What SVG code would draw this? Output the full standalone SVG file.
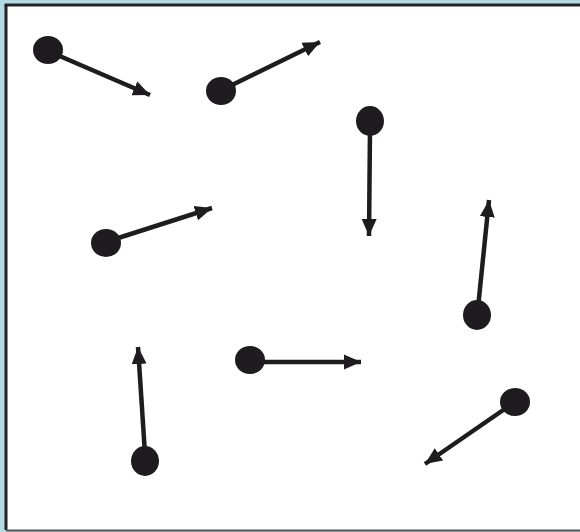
<svg xmlns="http://www.w3.org/2000/svg" width="580" height="532" viewBox="0 0 580 532">
<style>
.dot{fill:#1e1c1e}
.arr{stroke:#1e1c1e;stroke-width:4.5;fill:none;marker-end:url(#ah)}
</style>
<defs>
<marker id="ah" markerUnits="userSpaceOnUse" markerWidth="18" markerHeight="16" refX="17" refY="8" orient="auto">
<path d="M0,0.5 L17,8 L0,15.5 Z" fill="#1e1c1e"/>
</marker>
</defs>
<rect x="0" y="0" width="580" height="532" fill="#b3dbe5"/>
<rect x="6" y="5" width="580" height="525" fill="#fff"/>
<line x1="6" y1="5" x2="6" y2="530" stroke="#232323" stroke-width="3"/>
<line x1="4.5" y1="5" x2="580" y2="5" stroke="#232323" stroke-width="3"/>
<line x1="6" y1="530.5" x2="580" y2="530.5" stroke="#555" stroke-width="2"/>
<g id="connectors">
<line class="arr" x1="55" y1="54" x2="150" y2="95"/>
<line class="arr" x1="228" y1="87" x2="320" y2="42"/>
<line class="arr" x1="370" y1="128" x2="369" y2="236"/>
<line class="arr" x1="112" y1="240" x2="212" y2="208"/>
<line class="arr" x1="478" y1="308" x2="489" y2="200"/>
<line class="arr" x1="257" y1="362" x2="361" y2="362"/>
<line class="arr" x1="145" y1="454" x2="138" y2="347"/>
<line class="arr" x1="509" y1="406" x2="425" y2="464"/>
</g>
<g id="n1"><ellipse class="dot" cx="48" cy="50" rx="15" ry="14"/></g>
<g id="n2"><ellipse class="dot" cx="221" cy="91" rx="15" ry="14"/></g>
<g id="n3"><ellipse class="dot" cx="370" cy="121" rx="14" ry="15"/></g>
<g id="n4"><ellipse class="dot" cx="106" cy="243" rx="15" ry="14"/></g>
<g id="n5"><ellipse class="dot" cx="477" cy="315" rx="14" ry="15"/></g>
<g id="n6"><ellipse class="dot" cx="250" cy="360" rx="15" ry="14"/></g>
<g id="n7"><ellipse class="dot" cx="145" cy="461" rx="14" ry="15"/></g>
<g id="n8"><ellipse class="dot" cx="515" cy="402" rx="15" ry="14"/></g>
</svg>
